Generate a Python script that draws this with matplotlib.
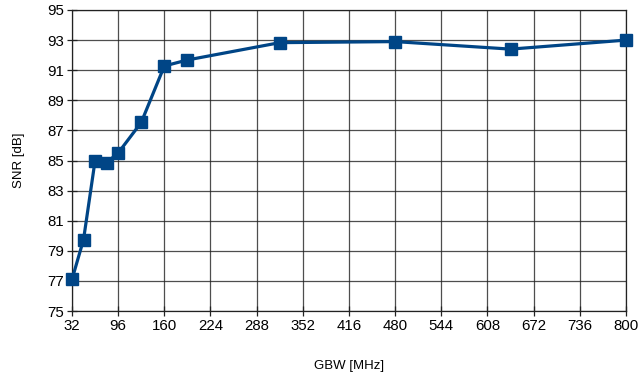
import matplotlib
matplotlib.use("Agg")
import matplotlib.pyplot as plt

gbw = [32, 48, 64, 80, 96, 128, 160, 192, 320, 480, 640, 800]
snr = [77.1, 79.75, 85.0, 84.86, 85.5, 87.53, 91.28, 91.68, 92.83, 92.9, 92.4, 93.0]
xticks = list(range(32, 801, 64))
yticks = list(range(75, 96, 2))

plt.rcParams['font.family'] = ['Liberation Sans', 'DejaVu Sans']

fig = plt.figure(figsize=(6.4, 3.77), dpi=100)
ax = fig.add_axes([0.1125, 0.175, 0.8656, 0.7985])
ax.plot(gbw, snr, color='#004586', linewidth=2.3, marker='s', markersize=8.5,
        markerfacecolor='#004586', markeredgecolor='#004586', zorder=3, clip_on=False)
ax.set_xlim(32, 800)
ax.set_ylim(75, 95)
ax.set_xticks(xticks)
ax.set_yticks(yticks)
ax.grid(True, color='#222222', linewidth=0.9, alpha=0.8)
for s in ax.spines.values():
    s.set_color('#222222')
    s.set_linewidth(0.9)
ax.tick_params(direction='inout', length=7, width=0.9, colors='#222222',
               labelsize=10.8, labelcolor='black', pad=2)
ax.set_xlabel('GBW [MHz]', fontsize=9.5, labelpad=20)
ax.set_ylabel('SNR [dB]', fontsize=9.5, labelpad=16)
fig.savefig('out.png', dpi=100)
